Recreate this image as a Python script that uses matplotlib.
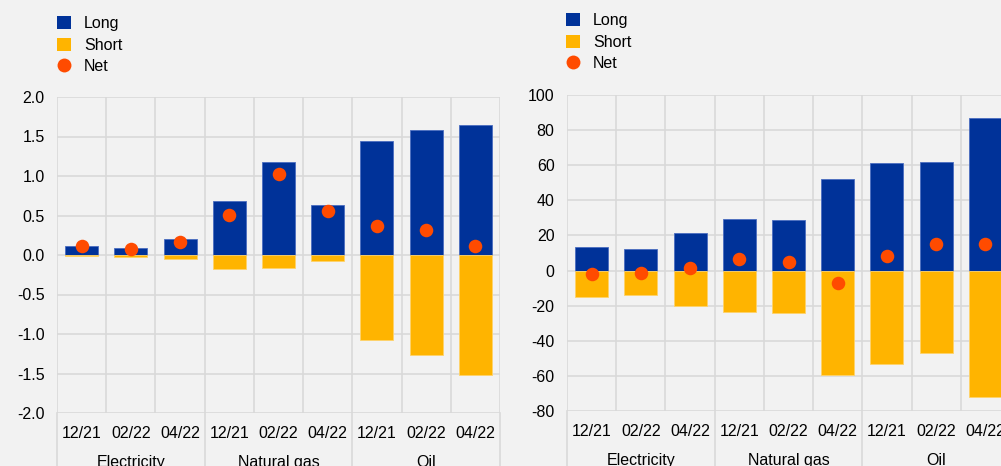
import matplotlib
matplotlib.use("Agg")
import matplotlib.pyplot as plt
import numpy as np
from matplotlib.patches import Patch
from matplotlib.lines import Line2D

plt.rcParams['font.family'] = ['Liberation Sans', 'DejaVu Sans']

periods = ["12/21", "02/22", "04/22"]
groups = ["Electricity", "Natural gas", "Oil"]
tick_labels = periods * 3

left_long = [0.12, 0.085, 0.20, 0.68, 1.18, 0.63, 1.44, 1.58, 1.64]
left_short = [-0.01, -0.025, -0.055, -0.18, -0.165, -0.08, -1.08, -1.27, -1.52]
left_net = [0.11, 0.07, 0.16, 0.51, 1.02, 0.56, 0.37, 0.32, 0.12]

right_long = [13.2, 12.3, 21.5, 29.3, 28.8, 52.0, 61.3, 61.8, 86.7]
right_short = [-15.0, -14.0, -20.4, -23.5, -24.4, -59.4, -53.1, -47.0, -71.9]
right_net = [-1.8, -1.4, 1.2, 6.4, 4.7, -7.3, 8.3, 15.1, 14.9]

C_LONG = "#003299"
C_SHORT = "#FFB400"
C_NET = "#FF4B00"
BG = "#F2F2F2"
GRID = "#D9D9D9"
FS = 11.5

W, H = 1001, 466
fig = plt.figure(figsize=(W / 100, H / 100), dpi=100, facecolor=BG)


def make_panel(rect, long_v, short_v, net_v, ylim, yticks, yfmt, legend_xy):
    ax = fig.add_axes(rect)
    ax.set_facecolor(BG)
    x = np.arange(len(long_v))
    ax.bar(x, long_v, width=0.67, color=C_LONG, edgecolor="#4a6cc0", linewidth=0.6, zorder=3)
    ax.bar(x, short_v, width=0.67, color=C_SHORT, edgecolor="#ffd36a", linewidth=0.6, zorder=3)
    ax.scatter(x, net_v, s=95, color=C_NET, zorder=4, linewidths=0)
    ax.set_xlim(-0.5, len(long_v) - 0.5)
    ax.set_ylim(*ylim)
    ax.set_yticks(yticks)
    ax.set_yticklabels([yfmt(v) for v in yticks])
    ax.set_xticks(x)
    ax.set_xticklabels(tick_labels)
    ax.set_xticks(np.arange(-0.5, len(long_v), 1), minor=True)
    ax.grid(axis="y", which="major", color=GRID, linewidth=1.2, zorder=0)
    ax.grid(axis="x", which="minor", color=GRID, linewidth=1.2, zorder=0)
    ax.tick_params(axis="both", which="both", length=0, labelsize=FS, colors="#000000")
    ax.tick_params(axis="x", pad=9)
    ax.tick_params(axis="y", pad=9)
    for s in ax.spines.values():
        s.set_visible(False)
    tr = ax.get_xaxis_transform()
    for b in [-0.5, 2.5, 5.5, 8.5]:
        ax.plot([b, b], [0, -0.25], transform=tr, color=GRID, linewidth=1.2, clip_on=False, zorder=0)
    for i, g in enumerate(groups):
        ax.text(i * 3 + 1, -0.157, g, transform=tr, ha="center", va="center", fontsize=FS)
    handles = [Patch(facecolor=C_LONG, edgecolor="none", label="Long"),
               Patch(facecolor=C_SHORT, edgecolor="none", label="Short"),
               Line2D([], [], marker="o", linestyle="none", markersize=10, color=C_NET,
                      markeredgewidth=0, label="Net")]
    fig.legend(handles=handles, loc="upper left",
               bbox_to_anchor=(legend_xy[0] / W, 1 - legend_xy[1] / H),
               frameon=False, fontsize=FS, handlelength=0.9, handleheight=0.9,
               handletextpad=0.8, labelspacing=0.4, borderpad=0, borderaxespad=0)
    return ax


make_panel([57 / W, 1 - 413 / H, 443 / W, 316 / H], left_long, left_short, left_net,
           (-2.0, 2.0), np.arange(-2.0, 2.01, 0.5), lambda v: f"{v:.1f}", (57, 16))
make_panel([567 / W, 1 - 411 / H, 443 / W, 316 / H], right_long, right_short, right_net,
           (-80, 100), np.arange(-80, 101, 20), lambda v: f"{v:.0f}", (566, 13))

fig.savefig("out.png", dpi=100, facecolor=BG)
